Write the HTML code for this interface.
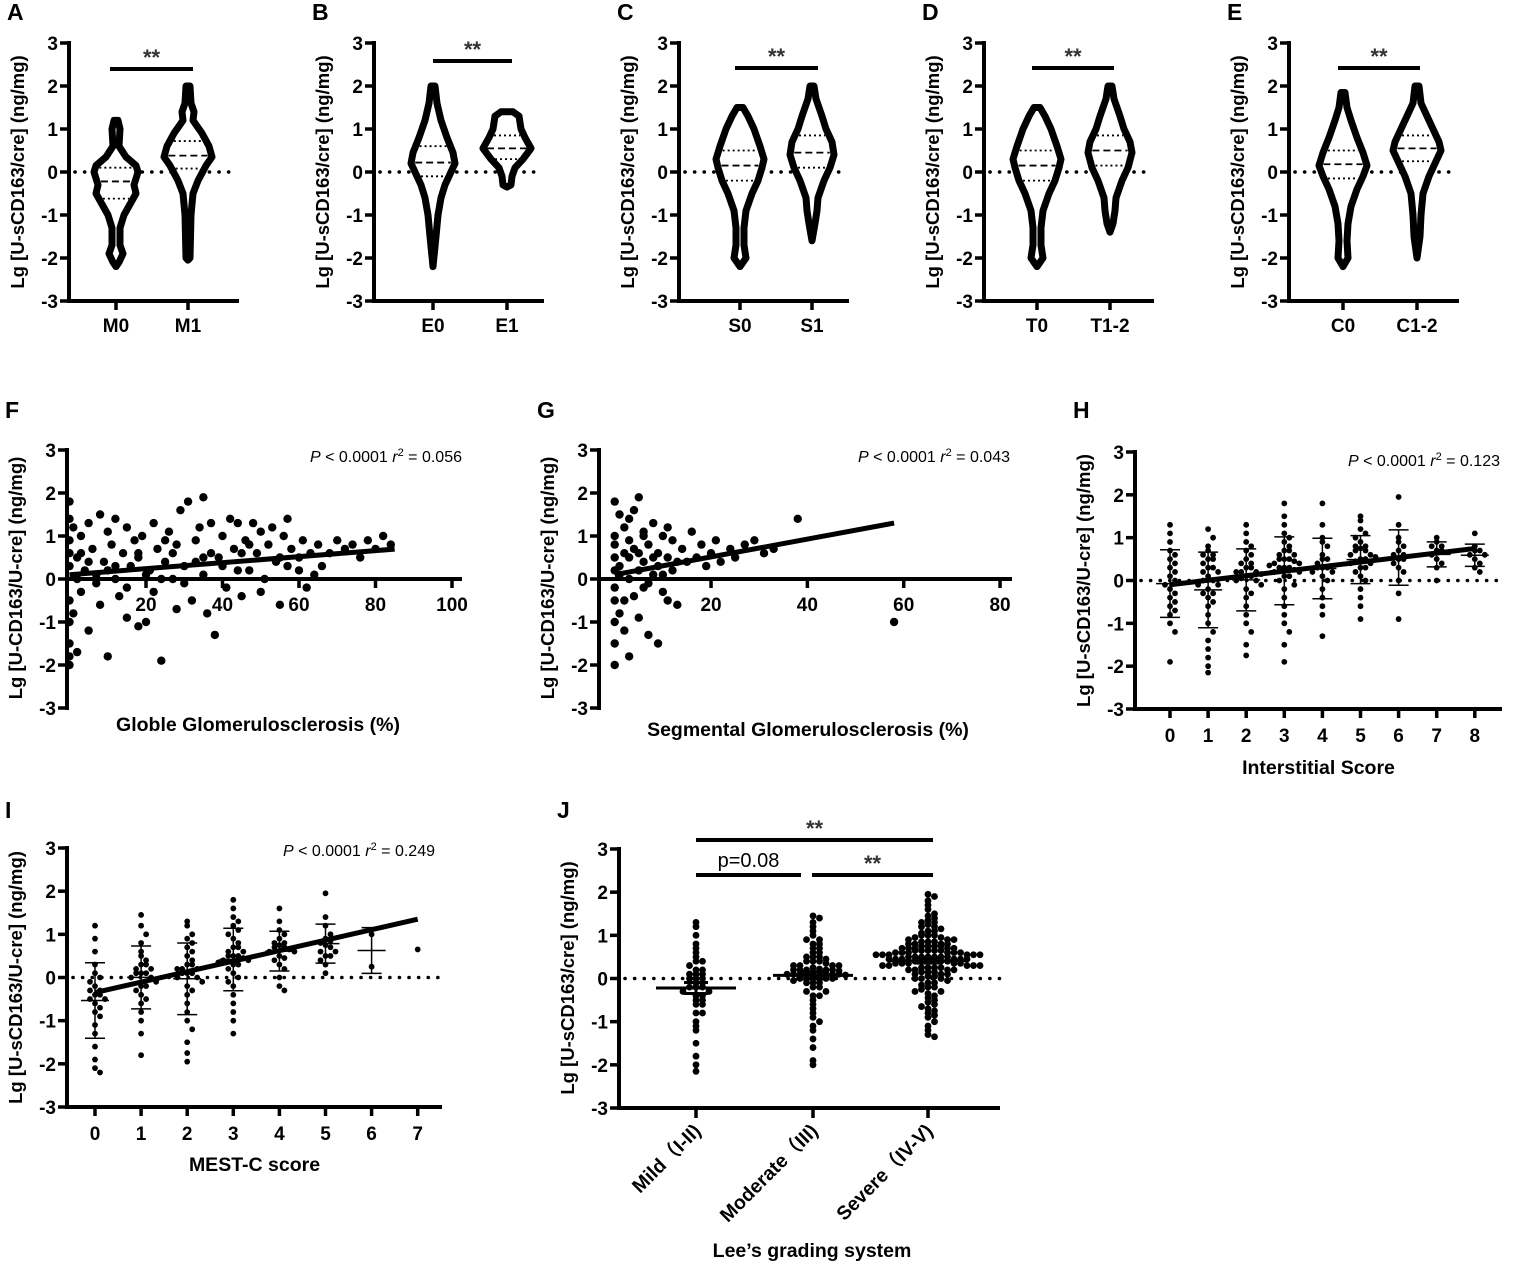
<!DOCTYPE html>
<html><head><meta charset="utf-8"><style>
html,body{margin:0;padding:0;background:#fff}
svg{display:block;font-family:"Liberation Sans",Arial,sans-serif}
</style></head><body>
<svg id="fig" width="1531" height="1264" viewBox="0 0 1531 1264"></svg>
<script>
// ---------- DATA ----------
const violinCats = [["M0","M1"],["E0","E1"],["S0","S1"],["T0","T1-2"],["C0","C1-2"]];
const violinLetters = ["A","B","C","D","E"];
const violinProfiles = [
 [[[1.2,2],[1.0,4],[0.6,3],[0.35,10],[0.15,20],[0,22],[-0.3,18],[-0.5,20],[-0.75,14],[-1.0,8],[-1.3,4],[-1.7,4],[-1.9,7],[-2.1,3],[-2.2,0]],
  [[2.0,2],[1.6,3],[1.4,6],[1.2,5],[0.9,14],[0.6,21],[0.35,24],[0.15,18],[-0.2,10],[-0.5,5],[-1.0,3],[-2.0,2],[-2.05,0]]],
 [[[2.0,2],[1.6,4],[1.2,8],[0.8,14],[0.45,20],[0.2,22],[0,18],[-0.3,12],[-0.6,8],[-1.0,5],[-1.5,3],[-2.2,0]],
  [[1.4,6],[1.3,12],[1.0,14],[0.8,18],[0.55,24],[0.3,16],[0.1,8],[-0.1,5],[-0.3,4],[-0.35,0]]],
 [[[1.5,3],[1.3,8],[1.0,14],[0.6,20],[0.3,24],[0.1,22],[-0.2,18],[-0.5,12],[-0.9,6],[-1.3,4],[-1.7,4],[-2.0,6],[-2.2,0]],
  [[2.0,2],[1.7,4],[1.3,10],[1.0,14],[0.7,20],[0.4,22],[0.1,18],[-0.2,12],[-0.6,6],[-0.9,5],[-1.2,3],[-1.6,0]]],
 [[[1.5,3],[1.3,8],[1.0,14],[0.6,20],[0.3,24],[0.1,22],[-0.2,18],[-0.5,12],[-0.9,6],[-1.3,4],[-1.7,4],[-2.0,6],[-2.2,0]],
  [[2.0,2],[1.7,4],[1.3,10],[1.0,14],[0.7,20],[0.45,22],[0.1,18],[-0.2,12],[-0.6,6],[-0.9,5],[-1.2,3],[-1.4,0]]],
 [[[1.85,2],[1.5,4],[1.2,8],[0.8,14],[0.45,20],[0.15,24],[-0.1,20],[-0.4,14],[-0.8,8],[-1.2,5],[-1.6,4],[-2.0,5],[-2.2,0]],
  [[2.0,2],[1.6,4],[1.3,10],[1.0,16],[0.7,22],[0.5,24],[0.2,18],[-0.1,12],[-0.5,6],[-1.0,4],[-1.5,3],[-2.0,0]]]
];
const violinMedians = [[-0.22,0.38],[0.22,0.55],[0.15,0.45],[0.15,0.5],[0.18,0.55]];
const violinQ1 = [[-0.62,0.08],[-0.1,0.3],[-0.2,0.1],[-0.2,0.15],[-0.15,0.25]];
const violinQ3 = [[0.1,0.72],[0.6,0.85],[0.5,0.85],[0.5,0.85],[0.5,0.85]];

const fX = [0,0,0,0,0,0,0,0,0,0, 1,1,2,2,3,3,4,5,5,6, 7,8,8,9,10,10,11,12,12,13, 14,15,15,16,17,18,18,19,20,21, 22,22,23,24,25,26,27,28,28,29, 30,31,32,33,34,35,35,36,37,38, 39,40,41,42,43,44,45,46,47,48, 49,50,51,52,53,54,55,56,57,58, 60,61,62,63,64,65,66,68,70,72, 74,76,78,80,82,84,5,10,15,20, 25,30,35,40,45,50,55,60,3,7, 12,18,24,33,44,27,37,47,57,2];
const fY = [1.8,-2.0,-1.5,-1.0,-0.5,0.3,0.9,1.4,-1.8,0.6, -0.8,1.2,0.5,-1.7,1.0,-0.3,0.2,1.3,-1.2,0.7, 0.1,1.5,-0.6,0.4,1.1,-1.8,0.8,0.0,1.4,-0.4, 0.6,1.2,-0.9,0.3,0.9,-1.1,0.5,1.0,-1.0,0.2, 1.3,-0.3,0.7,-1.9,0.4,1.1,0.0,0.8,-0.7,1.6, 0.3,1.8,-0.5,0.9,1.2,0.1,1.9,-0.8,0.6,-1.3, 0.5,1.0,-0.2,1.4,0.7,1.3,-0.4,0.9,0.2,1.3, 0.6,1.1,0.0,0.8,1.2,0.4,-0.6,1.0,0.3,0.7, 0.5,0.9,-0.2,0.6,0.1,0.8,0.3,0.6,0.9,0.7, 0.8,0.5,0.9,0.7,1.0,0.8,0.4,0.2,-0.2,0.1, 0.9,-0.1,0.5,0.3,0.6,-0.3,0.5,0.2,0.6,-0.1, 0.3,0.6,0.0,0.4,0.2,0.6,1.3,0.8,1.4,0.0];
const fFit = [0.1, 0.007];
const fXTicks = [20,40,60,80,100];

const gX = [0,0,0,0,0,0,0,0,0,0, 1,1,1,2,2,2,3,3,3,4, 4,5,5,5,6,6,7,7,8,8, 9,9,10,10,11,11,12,12,13,14, 15,16,17,18,19,20,21,22,24,25, 27,29,31,33,38,58,2,4,6,8, 1,3,5,7,9,11,13,3,6,10];
const gY = [-2.0,-1.5,-1.0,1.0,0.5,-0.5,1.8,0.2,-0.2,0.8, 1.5,-0.8,0.3,1.2,0.6,-1.2,0.9,0.0,1.4,-0.4, 0.7,1.9,0.2,-0.9,1.1,0.4,-1.3,0.8,1.3,0.1, -1.5,0.6,1.0,-0.3,0.5,1.2,0.2,0.9,-0.6,0.7, 0.4,1.1,0.5,0.8,0.3,0.6,0.9,0.4,0.7,0.5, 0.8,0.9,0.6,0.7,1.4,-1.0,-0.5,1.6,-0.2,0.5, 0.1,-1.8,0.6,-0.1,0.3,-0.5,0.4,0.5,1.0,0.1];
const gFit = [0.1, 0.0207];
const gXTicks = [20,40,60,80];

const hCats = ["0","1","2","3","4","5","6","7","8"];
const hVals = [
 [1.3,1.1,0.9,0.7,0.5,0.3,0.2,0.0,-0.1,-0.2,-0.3,-0.5,-0.6,-0.8,-1.0,-1.2,-1.9,0.6,0.4,-0.4,0.1,-0.7],
 [1.2,1.0,0.8,0.7,0.6,0.5,0.4,0.3,0.2,0.1,0.0,-0.1,-0.2,-0.3,-0.4,-0.5,-0.6,-0.8,-1.0,-1.2,-1.4,-1.6,-1.8,-2.0,-2.15,0.5,0.2,-0.1,0.3,0.0,-0.3,0.6],
 [1.3,1.1,0.9,0.8,0.7,0.6,0.5,0.4,0.3,0.2,0.15,0.1,0.05,0.0,-0.1,-0.2,-0.3,-0.4,-0.6,-0.8,-1.0,-1.2,-1.5,-1.75,0.2,0.1,0.3,0.0,0.2,0.4],
 [1.8,1.5,1.3,1.1,1.0,0.9,0.8,0.7,0.6,0.5,0.45,0.4,0.35,0.3,0.25,0.2,0.1,0.0,-0.1,-0.2,-0.4,-0.6,-0.8,-1.0,-1.2,-1.5,-1.9,0.5,0.3,0.4,0.6,0.2,0.3,0.1,0.5,0.7],
 [1.8,1.3,1.0,0.9,0.8,0.6,0.5,0.4,0.3,0.3,0.2,0.1,0.0,-0.2,-0.4,-0.6,-0.8,-1.3,0.3,0.5,0.2],
 [1.5,1.4,1.2,1.1,1.0,0.9,0.8,0.75,0.7,0.6,0.55,0.5,0.45,0.4,0.3,0.2,0.1,0.0,-0.2,-0.4,-0.6,-0.9,0.5,0.6,0.4,0.7,0.8,0.3],
 [1.95,1.3,1.0,0.9,0.8,0.7,0.6,0.5,0.4,0.3,0.2,0.0,-0.3,-0.9,0.5,0.6],
 [1.0,0.9,0.8,0.7,0.6,0.5,0.4,0.3,0.0,0.7,0.8],
 [1.1,0.8,0.7,0.6,0.5,0.4,0.3,0.2,0.6,0.7]
];
const hFit = [-0.1, 0.106];

const iCats = ["0","1","2","3","4","5","6","7"];
const iVals = [
 [1.2,0.9,0.6,0.3,0.1,0.0,-0.2,-0.3,-0.4,-0.5,-0.6,-0.7,-0.9,-1.1,-1.3,-1.6,-1.9,-2.1,-2.2,-0.4,-0.5,-0.1,-0.8,-0.3],
 [1.45,1.2,1.0,0.8,0.6,0.5,0.4,0.3,0.2,0.1,0.0,-0.1,-0.2,-0.3,-0.4,-0.5,-0.6,-0.8,-1.0,-1.3,-1.8,0.2,0.1,0.0,0.3,-0.2,0.1],
 [1.3,1.2,1.0,0.9,0.8,0.7,0.6,0.5,0.4,0.3,0.2,0.1,0.0,-0.1,-0.2,-0.3,-0.4,-0.6,-0.8,-1.0,-1.2,-1.5,-1.75,-1.95,0.2,0.1,0.3,0.0,0.2,0.1],
 [1.8,1.6,1.4,1.3,1.2,1.1,1.0,0.9,0.8,0.7,0.6,0.5,0.45,0.4,0.35,0.3,0.2,0.1,0.0,-0.1,-0.2,-0.4,-0.6,-0.8,-1.0,-1.3,0.5,0.4,0.6,0.3,0.7,0.5],
 [1.6,1.3,1.1,1.0,0.9,0.8,0.75,0.7,0.65,0.6,0.5,0.45,0.4,0.3,0.2,0.0,-0.2,-0.3,0.7,0.6,0.8],
 [1.95,1.4,1.2,1.0,0.9,0.85,0.8,0.75,0.7,0.6,0.5,0.4,0.3,0.1,0.5,0.6],
 [1.0,0.25],
 [0.65]
];
const iFit = [-0.35, 0.243];

const jCats = ["Mild（I-II)","Moderate（III)","Severe（IV-V)"];
const jVals = [
 [1.3,1.2,1.0,0.8,0.7,0.6,0.5,0.4,0.3,0.2,0.1,0.0,-0.1,-0.2,-0.3,-0.4,-0.5,-0.6,-0.8,-1.0,-1.2,-1.5,-1.8,-2.0,-2.15,0.1,-0.2,0.0,-0.3,-0.1,0.2,-0.4,0.0,-0.2,-0.6,0.4,-0.8,0.1,-0.5,-1.1],
 [1.45,1.4,1.3,1.2,1.1,1.0,0.9,0.9,0.8,0.8,0.7,0.7,0.6,0.6,0.5,0.5,0.5,0.4,0.4,0.4,0.3,0.3,0.3,0.3,0.2,0.2,0.2,0.2,0.2,0.15,0.15,0.1,0.1,0.1,0.1,0.1,0.1,0.05,0.05,0.0,0.0,0.0,0.0,-0.1,-0.1,-0.1,-0.2,-0.2,-0.3,-0.3,-0.4,-0.4,-0.5,-0.6,-0.7,-0.8,-0.9,-1.0,-1.1,-1.2,-1.4,-1.6,-1.9,-2.0,0.25,0.35,0.12,0.08,0.18,0.22,-0.05,0.45],
 [1.95,1.9,1.8,1.7,1.6,1.5,1.45,1.4,1.35,1.3,1.3,1.25,1.2,1.2,1.15,1.1,1.1,1.05,1.0,1.0,1.0,0.95,0.95,0.9,0.9,0.9,0.85,0.85,0.85,0.8,0.8,0.8,0.8,0.75,0.75,0.75,0.75,0.7,0.7,0.7,0.7,0.7,0.65,0.65,0.65,0.65,0.65,0.6,0.6,0.6,0.6,0.6,0.6,0.55,0.55,0.55,0.55,0.55,0.55,0.5,0.5,0.5,0.5,0.5,0.5,0.5,0.45,0.45,0.45,0.45,0.45,0.45,0.4,0.4,0.4,0.4,0.4,0.4,0.35,0.35,0.35,0.35,0.35,0.3,0.3,0.3,0.3,0.3,0.25,0.25,0.25,0.25,0.2,0.2,0.2,0.2,0.15,0.15,0.15,0.1,0.1,0.1,0.05,0.05,0.0,0.0,0.0,-0.05,-0.1,-0.1,-0.15,-0.2,-0.2,-0.25,-0.3,-0.3,-0.35,-0.4,-0.45,-0.5,-0.55,-0.6,-0.65,-0.7,-0.75,-0.8,-0.85,-0.9,-1.0,-1.1,-1.2,-1.3,-1.35]
];
const yTicks = [3,2,1,0,-1,-2,-3];

// ---------- DRAWING ----------
const NS = "http://www.w3.org/2000/svg";
const svg = document.getElementById("fig");
function mk(tag, a, p) {
  const e = document.createElementNS(NS, tag);
  for (const k in a) e.setAttribute(k, a[k]);
  (p || svg).appendChild(e);
  return e;
}
function txt(x, y, s, size, opts, p) {
  const o = Object.assign({x:x, y:y, "font-size":size, "font-weight":"bold", "text-anchor":"middle", fill:"#000"}, opts || {});
  const e = mk("text", o, p);
  e.textContent = s;
  return e;
}
function mean(a){return a.reduce((s,v)=>s+v,0)/a.length;}
function sd(a){const m=mean(a);return a.length<2?0:Math.sqrt(a.reduce((s,v)=>s+(v-m)*(v-m),0)/(a.length-1));}

function yAxis(g, ax, yTop, yBot) {
  const unit = (yBot - yTop) / 6;
  const sy = v => yTop + (3 - v) * unit;
  const line = mk("line", {x1:ax, y1:yTop - 2, x2:ax, y2:yBot + 2, stroke:"#000", "stroke-width":4}, g);
  
  
  yTicks.forEach(t => {
    const tk = mk("line", {x1:ax - 9, y1:sy(t), x2:ax, y2:sy(t), stroke:"#000", "stroke-width":3.5}, g);
    
    
    const lb = txt(ax - 11, sy(t) + 7, String(t), 19, {"text-anchor":"end"}, g);
    
    
  });
  return sy;
}
function yTitle(g, x, y, s) {
  const e = txt(x, y, s, 18.5, {transform:"rotate(-90 " + x + " " + y + ")"}, g);
  
  
}
function letter(g, x, y, s) {
  const e = txt(x, y, s, 23, {"text-anchor":"start"}, g);
  
  
}
function zeroDots(g, x1, x2, y) {
  const e = mk("line", {x1:x1, y1:y, x2:x2, y2:y, stroke:"#000", "stroke-width":3.6, "stroke-dasharray":"0.1 9.5", "stroke-linecap":"round"}, g);
  
  
}
function sigBar(g, x1, x2, y, label, size) {
  const b = mk("line", {x1:x1, y1:y, x2:x2, y2:y, stroke:"#000", "stroke-width":4}, g);
  
  
  const isP = label.startsWith("p");
  const t = txt((x1 + x2) / 2, y - (isP ? 8 : 4), label, size || 22, {"font-weight": isP ? "normal" : "bold", fill: isP ? "#000" : "#333"}, g);
  
  
}
function statText(g, xr, y, r2) {
  const t = mk("text", {x:xr, y:y, "font-size":16, "text-anchor":"end", fill:"#000"}, g);
  t.innerHTML = '<tspan font-style="italic">P</tspan> &lt; 0.0001 <tspan font-style="italic">r</tspan><tspan baseline-shift="super" font-size="11">2</tspan> = ' + r2;
  
  
}
function swarm(vals, cx, bin, spacing) {
  const counts = {};
  const sorted = vals.slice().sort((a,b)=>b-a);
  return sorted.map(v => {
    const b = Math.round(v / bin);
    const k = counts[b] || 0;
    counts[b] = k + 1;
    const off = k === 0 ? 0 : (k % 2 ? 1 : -1) * Math.ceil(k / 2) * spacing;
    return [cx + off, v];
  });
}

// ----- Violin panels A-E -----
const vAxes = [69, 374, 679, 984, 1289];
const vCatX = [[116,188],[433,507],[740,812],[1037,1110],[1343,1417]];
const vSig = [[110,193,69],[433,512,61],[735,818,68],[1032,1114,68],[1338,1420,68]];
violinLetters.forEach((L, p) => {
  const g = mk("g", {});
  
  
  const ax = vAxes[p];
  letter(g, ax - 62, 20, L);
  yTitle(g, ax - 45, 172, "Lg [U-sCD163/cre] (ng/mg)");
  const sy = yAxis(g, ax, 43, 301);
  const xl = mk("line", {x1:ax, y1:301, x2:ax + 170, y2:301, stroke:"#000", "stroke-width":4}, g);
  
  
  zeroDots(g, ax + 6, ax + 168, sy(0));
  violinCats[p].forEach((c, i) => {
    const cx = vCatX[p][i];
    const tk = mk("line", {x1:cx, y1:301, x2:cx, y2:310, stroke:"#000", "stroke-width":3.5}, g);
    
    
    const lb = txt(cx, 332, c, 19, {}, g);
    
    
    const prof = violinProfiles[p][i];
    const right = prof.map(q => (cx + q[1]) + "," + sy(q[0]));
    const left = prof.slice().reverse().map(q => (cx - q[1]) + "," + sy(q[0]));
    const vp = mk("polygon", {points: right.concat(left).join(" "), fill:"#fff", stroke:"#000", "stroke-width":7, "stroke-linejoin":"round"}, g);
    
    
    function widthAt(v){
      for (let k = 0; k < prof.length - 1; k++) {
        const a = prof[k], b = prof[k+1];
        if (v <= a[0] && v >= b[0]) { const t = (a[0]-v)/(a[0]-b[0]); return a[1] + t*(b[1]-a[1]); }
      }
      return 0;
    }
    [[violinMedians[p][i], "7 4", "median-line"], [violinQ1[p][i], "2 3", "quartile-line"], [violinQ3[p][i], "2 3", "quartile-line"]].forEach(m => {
      const w = Math.max(widthAt(m[0]) - 4, 2);
      const ml = mk("line", {x1:cx - w, y1:sy(m[0]), x2:cx + w, y2:sy(m[0]), stroke:"#000", "stroke-width":1.8, "stroke-dasharray":m[1]}, g);
      
      
    });
  });
  sigBar(g, vSig[p][0], vSig[p][1], vSig[p][2], "**", 22);
});

// ----- Panel F & G -----
function contPanel(L, ax, xZero, xUnit, xEnd, xs, ys, fit, fitMax, ticks, title, titleX, statX, r2, titleY) {
  const g = mk("g", {});
  
  
  letter(g, ax - 62, 418, L);
  yTitle(g, ax - 45, 578, "Lg [U-CD163/U-cre] (ng/mg)");
  const sy = yAxis(g, ax, 450, 708);
  const sx = v => xZero + v * xUnit;
  const xl = mk("line", {x1:ax, y1:sy(0), x2:xEnd, y2:sy(0), stroke:"#000", "stroke-width":4}, g);
  
  
  ticks.forEach(t => {
    const tk = mk("line", {x1:sx(t), y1:sy(0), x2:sx(t), y2:sy(0) + 9, stroke:"#000", "stroke-width":3.5}, g);
    
    
    const lb = txt(sx(t), sy(0) + 32, String(t), 19, {}, g);
    
    
  });
  xs.forEach((x, i) => {
    const c = mk("circle", {cx:sx(x), cy:sy(ys[i]), r:4.2, fill:"#000"}, g);
    
    
  });
  const rl = mk("line", {x1:sx(0), y1:sy(fit[0]), x2:sx(fitMax), y2:sy(fit[0] + fit[1] * fitMax), stroke:"#000", "stroke-width":5}, g);
  
  
  const tt = txt(titleX, titleY, title, 19.5, {}, g);
  
  
  statText(g, statX, 462, r2);
}
contPanel("F", 67, 69.5, 3.825, 462, fX, fY, fFit, 85, fXTicks, "Globle Glomerulosclerosis (%)", 258, 462, "0.056", 731);
contPanel("G", 599, 614.7, 4.817, 1012, gX, gY, gFit, 58, gXTicks, "Segmental Glomerulosclerosis (%)", 808, 1010, "0.043", 736);

// ----- H, I -----
function catPanel(L, ax, yTop, yBot, x0, step, xEnd, cats, vals, fit, title, titleY, statX, statY, r2, ytitle, letterY) {
  const g = mk("g", {});
  
  
  letter(g, ax - 62, letterY, L);
  yTitle(g, ax - 45, (yTop + yBot) / 2, ytitle);
  const sy = yAxis(g, ax, yTop, yBot);
  const sx = i => x0 + i * step;
  const xl = mk("line", {x1:ax, y1:yBot, x2:xEnd, y2:yBot, stroke:"#000", "stroke-width":4}, g);
  
  
  zeroDots(g, ax + 6, xEnd, sy(0));
  cats.forEach((c, i) => {
    const tk = mk("line", {x1:sx(i), y1:yBot, x2:sx(i), y2:yBot + 9, stroke:"#000", "stroke-width":3.5}, g);
    
    
    const lb = txt(sx(i), yBot + 33, c, 19, {}, g);
    
    
    swarm(vals[i], sx(i), 0.22, 5).forEach(pt => {
      const d = mk("circle", {cx:pt[0], cy:sy(pt[1]), r:2.9, fill:"#000"}, g);
      
      
    });
    const m = mean(vals[i]), s = sd(vals[i]);
    if (s > 0) {
      const eb = mk("path", {d:"M" + sx(i) + " " + sy(m + s) + "V" + sy(m - s) + "M" + (sx(i)-10) + " " + sy(m + s) + "h20M" + (sx(i)-10) + " " + sy(m - s) + "h20M" + (sx(i)-14) + " " + sy(m) + "h28", stroke:"#000", "stroke-width":1.5, fill:"none"}, g);
      
      
    }
  });
  const n = cats.length - 1;
  const rl = mk("line", {x1:sx(0), y1:sy(fit[0]), x2:sx(n), y2:sy(fit[0] + fit[1] * n), stroke:"#000", "stroke-width":5}, g);
  
  
  const tt = txt((ax + xEnd) / 2, titleY, title, 19.5, {}, g);
  
  
  statText(g, statX, statY, r2);
}
catPanel("H", 1135, 452, 709, 1170, 38.1, 1502, hCats, hVals, hFit, "Interstitial Score", 774, 1500, 466, "0.123", "Lg [U-sCD163/U-cre] (ng/mg)", 418);
catPanel("I", 67, 848, 1107, 95, 46.1, 442, iCats, iVals, iFit, "MEST-C score", 1171, 435, 856, "0.249", "Lg [U-sCD163/U-cre] (ng/mg)", 818);

// ----- Panel J -----
(function(){
  const g = mk("g", {});
  
  
  const ax = 619, yTop = 849, yBot = 1108;
  letter(g, 557, 818, "J");
  yTitle(g, 574, 978, "Lg [U-sCD163/cre] (ng/mg)");
  const sy = yAxis(g, ax, yTop, yBot);
  const catX = [696, 813, 928];
  const xl = mk("line", {x1:ax, y1:yBot, x2:1000, y2:yBot, stroke:"#000", "stroke-width":4}, g);
  
  
  zeroDots(g, ax + 6, 1000, sy(0));
  jCats.forEach((c, i) => {
    const cx = catX[i];
    const tk = mk("line", {x1:cx, y1:yBot, x2:cx, y2:yBot + 10, stroke:"#000", "stroke-width":3.5}, g);
    
    
    const lb = txt(cx + 6, yBot + 24, c, 19.5, {"text-anchor":"end", transform:"rotate(-45 " + (cx + 6) + " " + (yBot + 24) + ")"}, g);
    lb.setAttribute("font-family", '"Liberation Sans","Noto Sans CJK SC",sans-serif');
    
    
    swarm(jVals[i], cx, 0.12, 6.5).forEach(pt => {
      const d = mk("circle", {cx:pt[0], cy:sy(pt[1]), r:3.4, fill:"#000"}, g);
      
      
    });
    const m = mean(jVals[i]), se = sd(jVals[i]) / Math.sqrt(jVals[i].length);
    const eb = mk("path", {d:"M" + (cx - 40) + " " + sy(m) + "h80M" + cx + " " + sy(m + se) + "V" + sy(m - se) + "M" + (cx-12) + " " + sy(m + se) + "h24M" + (cx-12) + " " + sy(m - se) + "h24", stroke:"#000", "stroke-width":3, fill:"none"}, g);
    
    
  });
  sigBar(g, 696, 933, 840, "**", 22);
  sigBar(g, 696, 801, 875, "p=0.08", 20);
  sigBar(g, 812, 933, 875, "**", 22);
  const tt = txt(812, 1257, "Lee’s grading system", 19.5, {}, g);
  
  
})();
</script>
</body></html>
